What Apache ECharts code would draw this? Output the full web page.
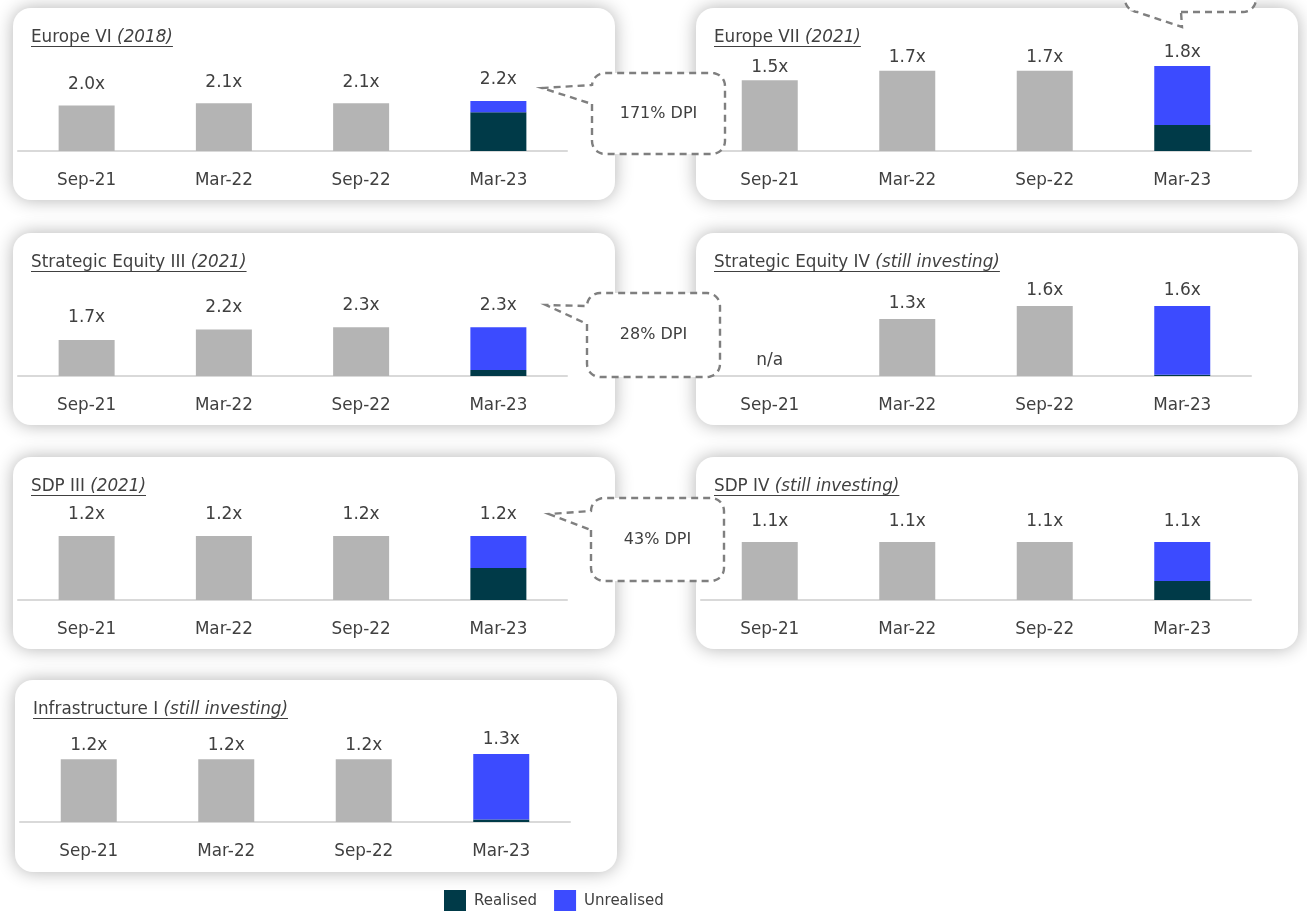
<!DOCTYPE html>
<html>
<head>
<meta charset="utf-8">
<title>Fund multiples</title>
<script src="https://cdn.jsdelivr.net/npm/echarts@6/dist/echarts.min.js"></script>
<style>
  html, body { margin: 0; padding: 0; background: #ffffff; }
  #chart { width: 1307px; height: 911px; }
</style>
</head>
<body>
<div id="chart"></div>
<script>
// Reporting dates shown under every fund panel
const periods = ['Sep-21', 'Mar-22', 'Sep-22', 'Mar-23'];

// Fund names and the note printed in italics after each name
const fundNames = ['Europe VI', 'Europe VII', 'Strategic Equity III', 'Strategic Equity IV', 'SDP III', 'SDP IV', 'Infrastructure I'];
const fundNotes = ['(2018)', '(2021)', '(2021)', '(still investing)', '(2021)', '(still investing)', '(still investing)'];

// Multiples at the three earlier dates (null = n/a)
const europeVIHistory = [2.0, 2.1, 2.1];
const europeVIIHistory = [1.5, 1.7, 1.7];
const strategicIIIHistory = [1.7, 2.2, 2.3];
const strategicIVHistory = [null, 1.3, 1.6];
const sdpIIIHistory = [1.2, 1.2, 1.2];
const sdpIVHistory = [1.1, 1.1, 1.1];
const infraIHistory = [1.2, 1.2, 1.2];

// Latest date split into realised and unrealised value (same fund order)
const latestRealised = [1.71, 0.55, 0.28, 0.03, 0.60, 0.36, 0.05];
const latestUnrealised = [0.49, 1.25, 2.02, 1.57, 0.60, 0.74, 1.25];

// DPI notes in the dashed callouts
const dpiNotes = ['171% DPI', '28% DPI', '43% DPI'];

const histories = [europeVIHistory, europeVIIHistory, strategicIIIHistory, strategicIVHistory,
                   sdpIIIHistory, sdpIVHistory, infraIHistory];

// ---- layout ----
const FONT = '"DejaVu Sans"';
const TEXT = '#404040';
const GREY = '#B4B4B4';
const REALISED = '#003A48';
const UNREALISED = '#3C4BFF';
const CARD_W = 602, CARD_H = 192, PLOT_H = 110;

// card origin, plot left/width, baseline offset, value-label gap, value-axis top
const panels = [
  { x: 13,  y: 8,   gx: 18,  gw: 549, base: 143, gap: 12, max: 4.84 },
  { x: 696, y: 8,   gx: 701, gw: 550, base: 143, gap: 4,  max: 2.33 },
  { x: 13,  y: 233, gx: 18,  gw: 549, base: 143, gap: 13, max: 5.20 },
  { x: 696, y: 233, gx: 701, gw: 550, base: 143, gap: 6,  max: 2.51 },
  { x: 13,  y: 457, gx: 18,  gw: 549, base: 143, gap: 12, max: 2.06 },
  { x: 696, y: 457, gx: 701, gw: 550, base: 143, gap: 12, max: 2.09 },
  { x: 15,  y: 680, gx: 20,  gw: 550, base: 142, gap: 5,  max: 2.10 }
];

// dashed callout shapes: box, wedge tip, wedge attachment points
const callouts = [
  { box: [592, 73, 725, 154], tip: [542, 88], side: 'left', a: [85, 104], note: 0 },
  { box: [587, 293, 720, 377], tip: [546, 305], side: 'left', a: [306, 324], note: 1 },
  { box: [591, 498, 724, 581], tip: [549, 514], side: 'left', a: [511, 530], note: 2 },
  { box: [1125, -60, 1256, 12], tip: [1182, 27], side: 'bottom', a: [1137, 1181], note: -1 }
];

const measureCtx = document.createElement('canvas').getContext('2d');
function textWidth(str, font) {
  measureCtx.font = font;
  return measureCtx.measureText(str).width;
}

function arcPts(cx, cy, r, a0, a1) {
  const pts = [];
  const n = 8;
  for (let k = 0; k <= n; k++) {
    const a = (a0 + (a1 - a0) * k / n) * Math.PI / 180;
    pts.push([cx + r * Math.cos(a), cy + r * Math.sin(a)]);
  }
  return pts;
}

function calloutPoints(c) {
  const [x0, y0, x1, y1] = c.box;
  const r = 13;
  let pts = [];
  if (c.side === 'left') {
    pts.push([x0, c.a[1]]);
    pts = pts.concat(arcPts(x0 + r, y1 - r, r, 180, 90));
    pts = pts.concat(arcPts(x1 - r, y1 - r, r, 90, 0));
    pts = pts.concat(arcPts(x1 - r, y0 + r, r, 0, -90));
    pts = pts.concat(arcPts(x0 + r, y0 + r, r, -90, -180));
    pts.push([x0, c.a[0]]);
    pts.push(c.tip);
  } else {
    pts.push([c.a[1], y1]);
    pts = pts.concat(arcPts(x1 - r, y1 - r, r, 90, 0));
    pts = pts.concat(arcPts(x1 - r, y0 + r, r, 0, -90));
    pts = pts.concat(arcPts(x0 + r, y0 + r, r, -90, -180));
    pts = pts.concat(arcPts(x0 + r, y1 - r, r, 180, 90));
    pts.push([c.a[0], y1]);
    pts.push(c.tip);
  }
  return pts;
}

const grids = [], xAxes = [], yAxes = [], series = [], elements = [];

panels.forEach((p, i) => {
  const baseline = p.y + p.base;

  // card background with soft shadow
  elements.push({
    type: 'rect', z: -10, silent: true,
    shape: { x: p.x, y: p.y, width: CARD_W, height: CARD_H, r: 18 },
    style: { fill: '#ffffff', shadowBlur: 18, shadowColor: 'rgba(0,0,0,0.30)' }
  });

  // underlined title: name + italic note
  const tFont = '16.8px ' + FONT;
  const iFont = 'italic 16.8px ' + FONT;
  const tx = p.x + 18, ty = p.y + 29.5;
  const nameText = fundNames[i] + ' ';
  const w1 = textWidth(nameText, tFont);
  const w2 = textWidth(fundNotes[i], iFont);
  elements.push({
    type: 'text', z: 5, silent: true,
    style: { text: nameText, x: tx, y: ty, font: tFont, fill: TEXT,
             textAlign: 'left', align: 'left', textVerticalAlign: 'middle', verticalAlign: 'middle' }
  });
  elements.push({
    type: 'text', z: 5, silent: true,
    style: { text: fundNotes[i], x: tx + w1, y: ty, font: iFont, fill: TEXT,
             textAlign: 'left', align: 'left', textVerticalAlign: 'middle', verticalAlign: 'middle' }
  });
  elements.push({
    type: 'line', z: 5, silent: true,
    shape: { x1: tx, y1: p.y + 38.5, x2: tx + w1 + w2, y2: p.y + 38.5 },
    style: { stroke: TEXT, lineWidth: 1 }
  });

  grids.push({ left: p.gx, top: baseline - PLOT_H, width: p.gw, height: PLOT_H, containLabel: false });
  xAxes.push({
    type: 'category', gridIndex: i, data: periods,
    axisLine: { show: true, lineStyle: { color: '#D9D9D9', width: 2 } },
    axisTick: { show: false },
    axisLabel: { color: TEXT, fontSize: 16.8, fontFamily: FONT, margin: 21, lineHeight: 18 }
  });
  yAxes.push({ type: 'value', gridIndex: i, min: 0, max: p.max, show: false, splitLine: { show: false } });

  const valueLabel = {
    show: true, position: 'top', distance: p.gap,
    color: TEXT, fontSize: 17, fontFamily: FONT, lineHeight: 18
  };

  const hist = histories[i].map(v => v === null
    ? { value: 0, label: { formatter: 'n/a' } }
    : v);
  hist.push('-');

  series.push({
    type: 'bar', name: 'Total', xAxisIndex: i, yAxisIndex: i, stack: 's' + i,
    barWidth: 56, itemStyle: { color: GREY },
    label: Object.assign({}, valueLabel, { formatter: q => q.value.toFixed(1) + 'x' }),
    data: hist
  });
  series.push({
    type: 'bar', name: 'Realised', xAxisIndex: i, yAxisIndex: i, stack: 's' + i,
    barWidth: 56, itemStyle: { color: REALISED },
    data: ['-', '-', '-', latestRealised[i]]
  });
  const total = latestRealised[i] + latestUnrealised[i];
  series.push({
    type: 'bar', name: 'Unrealised', xAxisIndex: i, yAxisIndex: i, stack: 's' + i,
    barWidth: 56, itemStyle: { color: UNREALISED },
    label: Object.assign({}, valueLabel, { formatter: () => total.toFixed(1) + 'x' }),
    data: ['-', '-', '-', latestUnrealised[i]]
  });
});

// dashed DPI callouts
callouts.forEach(c => {
  elements.push({
    type: 'polygon', z: 50, silent: true,
    shape: { points: calloutPoints(c) },
    style: { fill: '#ffffff', stroke: '#7F7F7F', lineWidth: 2.4, lineDash: [7, 5] }
  });
  if (c.note >= 0) {
    elements.push({
      type: 'text', z: 51, silent: true,
      style: { text: dpiNotes[c.note], x: (c.box[0] + c.box[2]) / 2, y: (c.box[1] + c.box[3]) / 2,
               font: '16px ' + FONT, fill: TEXT,
               textAlign: 'center', align: 'center', textVerticalAlign: 'middle', verticalAlign: 'middle' }
    });
  }
});

const chart = echarts.init(document.getElementById('chart'), null, { renderer: 'canvas' });
chart.setOption({
  animation: false,
  backgroundColor: '#ffffff',
  textStyle: { fontFamily: FONT },
  grid: grids,
  xAxis: xAxes,
  yAxis: yAxes,
  series: series,
  legend: {
    data: ['Realised', 'Unrealised'],
    left: 444, top: 890, padding: 0,
    icon: 'rect', itemWidth: 22, itemHeight: 22, itemGap: 17,
    selectedMode: false,
    textStyle: { color: TEXT, fontSize: 15, fontFamily: FONT, padding: [0, 0, 0, 3] }
  },
  graphic: { elements: elements }
});
</script>
</body>
</html>
